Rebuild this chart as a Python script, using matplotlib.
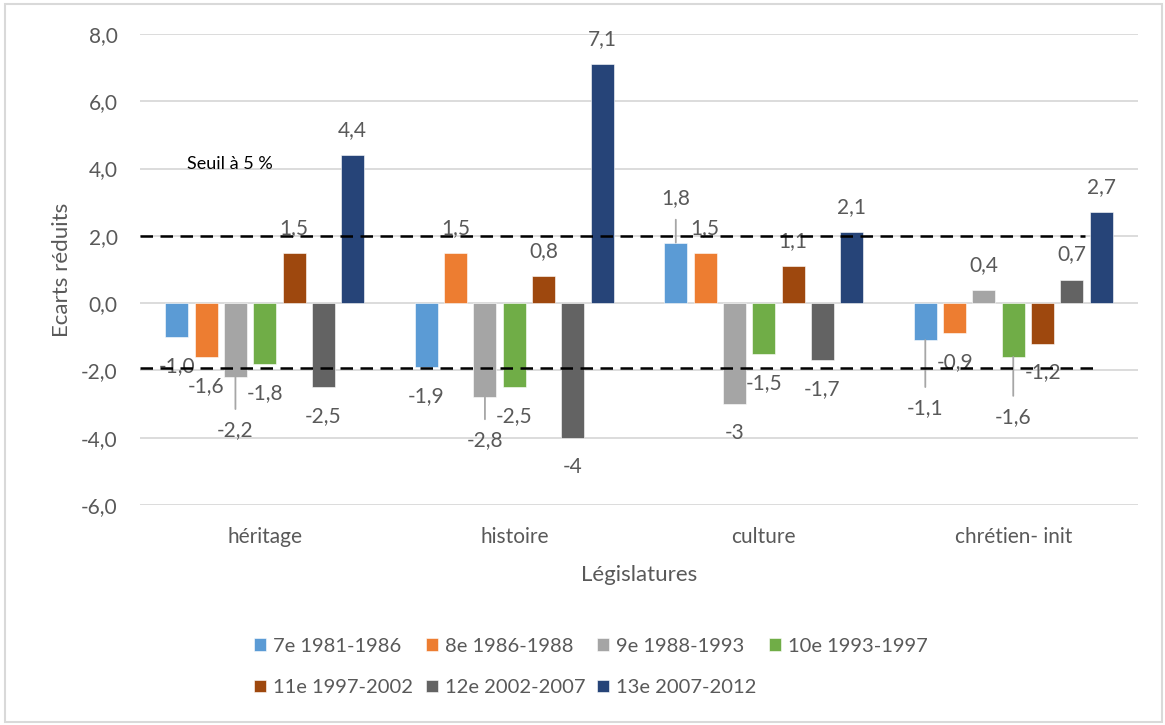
import numpy as np
import matplotlib.pyplot as plt
from matplotlib.patches import Rectangle

plt.rcParams['font.family'] = ['Lato', 'DejaVu Sans']

categories = ['héritage', 'histoire', 'culture', 'chrétien- init']
series = ['7e 1981-1986', '8e 1986-1988', '9e 1988-1993', '10e 1993-1997',
          '11e 1997-2002', '12e 2002-2007', '13e 2007-2012']

# one list per legislature, values in category order
leg_7 = [-1.0, -1.9, 1.8, -1.1]
leg_8 = [-1.6, 1.5, 1.5, -0.9]
leg_9 = [-2.2, -2.8, -3, 0.4]
leg_10 = [-1.8, -2.5, -1.5, -1.6]
leg_11 = [1.5, 0.8, 1.1, -1.2]
leg_12 = [-2.5, -4, -1.7, 0.7]
leg_13 = [4.4, 7.1, 2.1, 2.7]
values = [leg_7, leg_8, leg_9, leg_10, leg_11, leg_12, leg_13]

seuil = 2.0
seuil_bas = -1.93

colors = ['#5B9BD5', '#ED7D31', '#A5A5A5', '#70AD47',
          '#9E480E', '#636363', '#264478']
text_gray = '#595959'

# labels moved away from the bar (series, category) -> offset in px
moved = {(2, 0): 53, (2, 1): 43, (0, 2): 44, (0, 3): 68, (3, 3): 60}

fig = plt.figure(figsize=(11.65, 7.25), dpi=100)
ax = fig.add_axes([140 / 1165, 1 - 505 / 725, 998 / 1165, 471 / 725])

x = np.arange(len(categories))
slot = 0.1175
width = 0.092

for i, (name, vals) in enumerate(zip(series, values)):
    xs = x + (i - 3) * slot
    ax.bar(xs, vals, width, color=colors[i], label=name, zorder=2,
           edgecolor='white', linewidth=0.4)
    for j, v in enumerate(vals):
        txt = str(v).replace('.', ',')
        default = 25 if v > 0 else 29
        off = moved.get((i, j), default)
        dy = off if v > 0 else -off
        arrow = None
        if (i, j) in moved:
            arrow = dict(arrowstyle='-', color='#a6a6a6', lw=1.3,
                         shrinkA=6, shrinkB=0)
        ax.annotate(txt, xy=(xs[j], v), xytext=(0, dy),
                    textcoords='offset pixels', ha='center', va='center',
                    fontsize=15, color=text_gray, arrowprops=arrow, zorder=3)

# threshold lines
trans = ax.get_yaxis_transform()
ax.plot([0, 0.947], [seuil, seuil], transform=trans, color='black',
        lw=1.8, dashes=(5, 3), zorder=4)
ax.plot([0, 0.959], [seuil_bas, seuil_bas], transform=trans, color='black',
        lw=1.8, dashes=(5, 3), zorder=4)
ax.text(-0.312, 4.13, 'Seuil à 5 %', fontsize=13, color='black',
        ha='left', va='center', zorder=4)

ax.set_xlim(-0.5, 3.5)
ax.set_ylim(-6, 8)
ax.set_yticks(np.arange(-6, 9, 2))
ax.set_yticklabels([f'{t:.1f}'.replace('.', ',') for t in np.arange(-6, 9, 2)])
ax.set_xticks(x)
ax.set_xticklabels(categories)
ax.tick_params(axis='both', length=0, labelsize=15, labelcolor=text_gray)
ax.tick_params(axis='y', pad=16)
ax.tick_params(axis='x', pad=16)
ax.grid(axis='y', color='#d9d9d9', lw=1.3, zorder=0)
ax.set_axisbelow(True)
for s in ax.spines.values():
    s.set_visible(False)

ax.set_ylabel('Ecarts réduits', fontsize=16, color=text_gray)
ax.yaxis.set_label_coords(-0.068, 0.5)
ax.set_xlabel('Législatures', fontsize=16, color=text_gray)
ax.xaxis.set_label_coords(0.5, -0.128)

# legend laid out row by row like the original
handles, labels = ax.get_legend_handles_labels()
order = [0, 4, 1, 5, 2, 6, 3]
fig.legend([handles[k] for k in order], [labels[k] for k in order],
           loc='center', bbox_to_anchor=(591 / 1165, 1 - 667 / 725),
           ncol=4, frameon=False, fontsize=14.5, labelcolor=text_gray,
           handlelength=0.6, handleheight=0.6, handletextpad=0.35,
           columnspacing=0.6, labelspacing=1.2)

fig.patches.append(Rectangle((5 / 1165, 3 / 725), 1157 / 1165, 718 / 725,
                             transform=fig.transFigure, fill=False,
                             edgecolor='#d9d9d9', lw=1.5))

fig.savefig('out.png', dpi=100)
